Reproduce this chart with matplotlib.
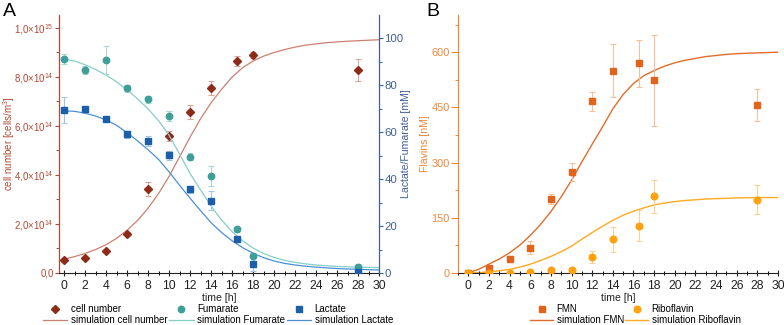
import matplotlib
matplotlib.use("Agg")
import matplotlib.pyplot as plt
from matplotlib.lines import Line2D
from matplotlib.ticker import MultipleLocator

plt.rcParams["font.family"] = ["Liberation Sans", "DejaVu Sans"]
plt.rcParams["mathtext.fontset"] = "custom"
plt.rcParams["mathtext.rm"] = "Liberation Sans"
plt.rcParams["mathtext.it"] = "Liberation Sans:italic"
plt.rcParams["mathtext.bf"] = "Liberation Sans:bold"

# ---------------- data ----------------
t_obs = [0, 2, 4, 6, 8, 10, 12, 14, 16.5, 18, 28]

# panel A, measured
cell = [0.55, 0.62, 0.90, 1.60, 3.43, 5.59, 6.57, 7.55, 8.65, 8.90, 8.29]   # x1e14 cells/m3
cell_err = [0.05, 0.05, 0.05, 0.06, 0.30, 0.22, 0.27, 0.27, 0.20, 0.12, 0.45]
fumarate = [91.0, 86.4, 90.5, 78.6, 74.0, 66.8, 49.4, 41.4, 18.6, 7.4, 2.7]
fumarate_err = [2.0, 1.5, 6.0, 1.5, 1.5, 2.0, 1.5, 4.3, 1.0, 1.0, 1.0]
lactate = [69.4, 69.7, 65.7, 59.0, 56.2, 50.1, 35.6, 30.8, 14.5, 3.7, 0.6]
lactate_err = [5.4, 1.0, 1.0, 1.5, 2.0, 2.0, 1.5, 3.9, 1.0, 2.8, 0.5]

# panel B, measured
fmn = [0, 12.7, 38, 69, 202, 274, 467, 549, 570, 524, 456]
fmn_err = [2, 4, 8, 18, 14, 25, 26, 72, 64, 124, 43]
ribo = [0, 0, 1, 2.7, 9, 9, 42.6, 91.5, 128.6, 208, 199]
ribo_err = [0, 0, 0, 1, 2, 2, 16, 34, 43, 46, 39]

# simulations, sampled every hour
t_sim = [0, 1, 2, 3, 4, 5, 6, 7, 8, 9, 10, 11, 12, 13, 14, 15,
         16, 17, 18, 19, 20, 21, 22, 23, 24, 25, 26, 27, 28, 29, 30]
sim_cell = [0.57, 0.67, 0.80, 0.96, 1.16, 1.42, 1.75, 2.15, 2.65, 3.25, 3.95,
            4.75, 5.55, 6.30, 6.95, 7.50, 8.00, 8.38, 8.65, 8.85, 9.00, 9.12,
            9.22, 9.30, 9.35, 9.40, 9.43, 9.46, 9.48, 9.50, 9.52]
sim_fumarate = [91.0, 90.2, 88.6, 86.6, 84.2, 81.3, 77.9, 74.1, 69.8, 64.8, 58.5,
                50.5, 42.3, 35.3, 28.5, 22.5, 17.6, 13.7, 10.6, 8.3, 6.6, 5.4,
                4.5, 3.9, 3.4, 3.1, 2.8, 2.6, 2.5, 2.4, 2.3]
sim_lactate = [69.0, 68.8, 68.0, 66.8, 65.1, 62.8, 59.7, 56.2, 52.4, 48.3, 43.0,
               37.3, 31.8, 26.5, 21.4, 17.2, 13.7, 10.8, 8.4, 6.5, 5.1, 4.1,
               3.4, 2.9, 2.5, 2.2, 1.9, 1.7, 1.6, 1.4, 1.3]
sim_fmn = [0, 10, 24, 38, 55, 76, 102, 132, 167, 207, 252, 302, 350, 397, 446,
           485, 515, 536, 550, 562, 571, 578, 583, 588, 591, 594, 596, 597, 598,
           599, 600]
sim_ribo = [0, 1, 3, 6, 10, 16, 24, 34, 45, 58, 73, 92, 110, 127, 143, 157, 168,
            177, 185, 190, 194, 197, 199, 201, 202, 203, 204, 204.5, 205, 205, 205]

x_ticks = [0, 2, 4, 6, 8, 10, 12, 14, 16, 18, 20, 22, 24, 26, 28, 30]
cell_ticks = [0, 2e14, 4e14, 6e14, 8e14, 1e15]
cell_tick_labels = ["0,0", "2,0×10$^{14}$", "4,0×10$^{14}$", "6,0×10$^{14}$",
                    "8,0×10$^{14}$", "1,0×10$^{15}$"]
conc_ticks = [0, 20, 40, 60, 80, 100]
flavin_ticks = [0, 150, 300, 450, 600]

# ---------------- colours ----------------
C_CELL, C_CELL_SIM, C_CELL_ERR = "#8E2A18", "#CC8070", "#DDA595"
C_FUM, C_FUM_SIM, C_FUM_ERR = "#3E9E98", "#86CEC8", "#A8D8D4"
C_LAC, C_LAC_SIM, C_LAC_ERR = "#1B5FA8", "#4D8FD6", "#A3C3E8"
C_AX_L, C_AX_R = "#B34A35", "#3F5F96"
C_FMN, C_FMN_SIM, C_FMN_ERR = "#E0641C", "#E26C2A", "#F5C09C"
C_RIB, C_RIB_SIM, C_RIB_ERR = "#FFA20F", "#FDAA22", "#FAD394"
C_AX_B = "#F0883A"

W, H = 784, 325
fig = plt.figure(figsize=(W / 100, H / 100), dpi=100)
axA = fig.add_axes([59 / W, 52 / H, 320 / W, 258 / H])
axA2 = axA.twinx()
axB = fig.add_axes([458 / W, 52 / H, 320 / W, 258 / H])

XTICK_FS = 8.8
LABEL_FS = 7.6
LEG_FS = 7


def style_x(ax):
    ax.set_xticks(x_ticks)
    ax.xaxis.set_minor_locator(MultipleLocator(1))
    ax.tick_params(axis="x", which="major", direction="inout", length=5,
                   width=0.8, pad=2.5, labelsize=XTICK_FS, colors="#222222")
    ax.tick_params(axis="x", which="minor", direction="inout", length=3, width=0.7)
    ax.set_xlabel("time [h]", fontsize=LABEL_FS, labelpad=0.5, color="#222222")
    ax.spines["bottom"].set_color("#222222")
    ax.spines["bottom"].set_linewidth(0.8)
    ax.spines["top"].set_visible(False)


def err(ax, y, e, c):
    ax.errorbar(t_obs, y, yerr=e, fmt="none", ecolor=c, elinewidth=0.8,
                capsize=2, capthick=0.8, zorder=2)


# ---------------- panel A ----------------
cell_abs = [v * 1e14 for v in cell]
cell_err_abs = [v * 1e14 for v in cell_err]
sim_cell_abs = [v * 1e14 for v in sim_cell]

axA.plot(t_sim, sim_cell_abs, color=C_CELL_SIM, lw=0.9, zorder=1)
err(axA, cell_abs, cell_err_abs, C_CELL_ERR)
axA.plot(t_obs, cell_abs, ls="none", marker="D", ms=4.0, color=C_CELL, zorder=3)

axA2.plot(t_sim, sim_fumarate, color=C_FUM_SIM, lw=0.9, zorder=1)
axA2.plot(t_sim, sim_lactate, color=C_LAC_SIM, lw=0.9, zorder=1)
err(axA2, fumarate, fumarate_err, C_FUM_ERR)
err(axA2, lactate, lactate_err, C_LAC_ERR)
axA2.plot(t_obs, fumarate, ls="none", marker="o", ms=4.6, color=C_FUM, zorder=3)
axA2.plot(t_obs, lactate, ls="none", marker="s", ms=4.2, color=C_LAC, zorder=3)

axA.set_xlim(-0.5, 30)
axA.set_ylim(0, 1.053e15)
axA2.set_ylim(0, 109.8)
style_x(axA)
axA2.spines["top"].set_visible(False)
axA2.spines["bottom"].set_visible(False)

axA.set_yticks(cell_ticks)
axA.set_yticklabels(cell_tick_labels)
axA.yaxis.set_minor_locator(MultipleLocator(1e14))
axA.tick_params(axis="y", which="major", direction="out", length=3, width=0.8,
                pad=0.8, labelsize=7.0, colors=C_AX_L)
axA.tick_params(axis="y", which="minor", direction="out", length=2, width=0.7,
                colors=C_AX_L)
axA.spines["left"].set_color(C_AX_L)
axA.spines["left"].set_linewidth(0.9)
axA.spines["right"].set_visible(False)
axA.set_ylabel("cell number [cells/m$^3$]", fontsize=7.0, color=C_AX_L)
axA.yaxis.set_label_coords(-0.132, 0.5)

axA2.set_yticks(conc_ticks)
axA2.yaxis.set_minor_locator(MultipleLocator(10))
axA2.tick_params(axis="y", which="major", direction="out", length=3, width=0.8,
                 pad=1, labelsize=8.2, colors=C_AX_R)
axA2.tick_params(axis="y", which="minor", direction="out", length=2, width=0.7,
                 colors=C_AX_R)
axA2.spines["right"].set_color(C_AX_R)
axA2.spines["right"].set_linewidth(0.9)
axA2.spines["left"].set_visible(False)
axA2.set_ylabel("Lactate/Fumarate [mM]", fontsize=LABEL_FS, color=C_AX_R)
axA2.yaxis.set_label_coords(1.068, 0.5)

handlesA = [
    Line2D([], [], ls="none", marker="D", ms=4.0, color=C_CELL),
    Line2D([], [], color=C_CELL_SIM, lw=0.9),
    Line2D([], [], ls="none", marker="o", ms=4.6, color=C_FUM),
    Line2D([], [], color=C_FUM_SIM, lw=0.9),
    Line2D([], [], ls="none", marker="s", ms=4.2, color=C_LAC),
    Line2D([], [], color=C_LAC_SIM, lw=0.9),
]
labelsA = ["cell number", "simulation cell number", "Fumarate",
           "simulation Fumarate", "Lactate", "simulation Lactate"]
fig.legend(handlesA, labelsA, ncol=3, loc="upper left",
           bbox_to_anchor=(43 / W, 1 - 304 / H), frameon=False, fontsize=LEG_FS,
           handlelength=2.5, handletextpad=0.35, columnspacing=0.2,
           labelspacing=0.12, borderpad=0, borderaxespad=0, numpoints=1)

# ---------------- panel B ----------------
axB.plot(t_sim, sim_fmn, color=C_FMN_SIM, lw=1.0, zorder=1)
axB.plot(t_sim, sim_ribo, color=C_RIB_SIM, lw=1.0, zorder=1)
err(axB, fmn, fmn_err, C_FMN_ERR)
err(axB, ribo, ribo_err, C_RIB_ERR)
axB.plot(t_obs, fmn, ls="none", marker="s", ms=4.2, color=C_FMN, zorder=3)
axB.plot(t_obs, ribo, ls="none", marker="o", ms=4.8, color=C_RIB, zorder=3)

axB.set_xlim(-1, 30)
axB.set_ylim(0, 701)
style_x(axB)
axB.spines["right"].set_visible(False)
axB.set_yticks(flavin_ticks)
axB.yaxis.set_minor_locator(MultipleLocator(75))
axB.tick_params(axis="y", which="major", direction="out", length=5, width=0.8,
                pad=1, labelsize=7.9, colors=C_AX_B)
axB.tick_params(axis="y", which="minor", direction="out", length=2.5, width=0.7,
                colors=C_AX_B)
axB.spines["left"].set_color(C_AX_B)
axB.spines["left"].set_linewidth(0.9)
axB.set_ylabel("Flavins [nM]", fontsize=LABEL_FS, color=C_AX_B)
axB.yaxis.set_label_coords(-0.088, 0.5)

handlesB = [
    Line2D([], [], ls="none", marker="s", ms=4.2, color=C_FMN),
    Line2D([], [], color=C_FMN_SIM, lw=1.0),
    Line2D([], [], ls="none", marker="o", ms=4.8, color=C_RIB),
    Line2D([], [], color=C_RIB_SIM, lw=1.0),
]
labelsB = ["FMN", "simulation FMN", "Riboflavin", "simulation Riboflavin"]
fig.legend(handlesB, labelsB, ncol=2, loc="upper left",
           bbox_to_anchor=(530 / W, 1 - 304 / H), frameon=False, fontsize=LEG_FS,
           handlelength=2.4, handletextpad=0.35, columnspacing=0.1,
           labelspacing=0.12, borderpad=0, borderaxespad=0, numpoints=1)

fig.text(3 / W, 1 - 3 / H, "A", fontsize=14, ha="left", va="top")
fig.text(426 / W, 1 - 3 / H, "B", fontsize=14, ha="left", va="top")

fig.savefig("out.png", dpi=100)
